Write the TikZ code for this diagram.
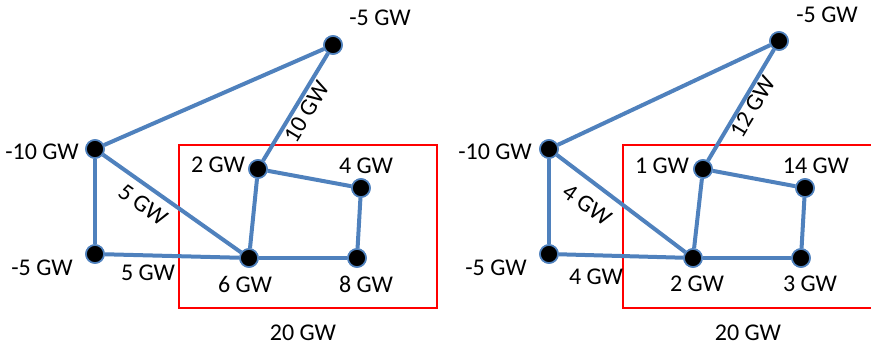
\documentclass[tikz,border=0pt]{standalone}
\usepackage{fontspec}
\setmainfont{Carlito}
\begin{document}
\begin{tikzpicture}[x=0.75pt,y=-0.75pt,
  bus/.style={circle,fill=black,draw=lineblue,line width=1.2pt,inner sep=0pt,minimum size=13.5pt},
  link/.style={draw=lineblue,line width=3pt},
  lbl/.style={font=\fontsize{18}{21}\selectfont,inner sep=0pt},
  area/.style={draw=areared,line width=1.6pt}]
\definecolor{lineblue}{RGB}{79,129,189}
\definecolor{areared}{RGB}{255,0,0}
\useasboundingbox (0,0) rectangle (871,347);
% ---------- left panel ----------
\draw[area] (179,145) rectangle (437,308);
\node[bus] (lt) at (333,45) {};
\node[bus] (lw) at (95,149) {};
\node[bus] (lb) at (95,254) {};
\node[bus] (la) at (258,169) {};
\node[bus] (lc) at (361,188) {};
\node[bus] (ld) at (249,258) {};
\node[bus] (le) at (357,258) {};
\draw[link] (lw) -- (lt);
\draw[link] (la) -- (lt);
\draw[link] (lw) -- (lb);
\draw[link] (lw) -- (ld);
\draw[link] (lb) -- (ld);
\draw[link] (la) -- (ld);
\draw[link] (la) -- (lc);
\draw[link] (lc) -- (le);
\draw[link] (ld) -- (le);
\foreach \n in {lt,lw,lb,la,lc,ld,le} \node[bus] at (\n) {};
\node[lbl] (t1) at (380,18) {-5 GW};
\node[lbl] (t2) at (42,152) {-10 GW};
\node[lbl] (t3) at (42,268) {-5 GW};
\node[lbl] (t4) at (148,273) {5 GW};
\node[lbl] (t5) at (218,165) {2 GW};
\node[lbl] (t6) at (366,166) {4 GW};
\node[lbl] (t7) at (245,284) {6 GW};
\node[lbl] (t8) at (366,284) {8 GW};
\node[lbl] (t9) at (303,333) {20 GW};
\node[lbl,rotate=58.8] (t10) at (307,112) {10 GW};
\node[lbl,rotate=-35.3] (t11) at (143,205) {5 GW};
% ---------- right panel ----------
\draw[area] (871,145) -- (623,145) -- (623,308) -- (871,308);
\node[bus] (rt) at (779,41) {};
\node[bus] (rw) at (549,149) {};
\node[bus] (rb) at (549,254) {};
\node[bus] (ra) at (703,169) {};
\node[bus] (rc) at (805,188) {};
\node[bus] (rd) at (693,258) {};
\node[bus] (re) at (801,258) {};
\draw[link] (rw) -- (rt);
\draw[link] (ra) -- (rt);
\draw[link] (rw) -- (rb);
\draw[link] (rw) -- (rd);
\draw[link] (rb) -- (rd);
\draw[link] (ra) -- (rd);
\draw[link] (ra) -- (rc);
\draw[link] (rc) -- (re);
\draw[link] (rd) -- (re);
\foreach \n in {rt,rw,rb,ra,rc,rd,re} \node[bus] at (\n) {};
\node[lbl] (s1) at (827,15) {-5 GW};
\node[lbl] (s2) at (495,152) {-10 GW};
\node[lbl] (s3) at (496,268) {-5 GW};
\node[lbl] (s4) at (596,277) {4 GW};
\node[lbl] (s5) at (662,166) {1 GW};
\node[lbl] (s6) at (816,166) {14 GW};
\node[lbl] (s7) at (697,284) {2 GW};
\node[lbl] (s8) at (810,284) {3 GW};
\node[lbl] (s9) at (748,333) {20 GW};
\node[lbl,rotate=58.8] (s10) at (753,107) {12 GW};
\node[lbl,rotate=-35.3] (s11) at (587,205) {4 GW};
\end{tikzpicture}
\end{document}
